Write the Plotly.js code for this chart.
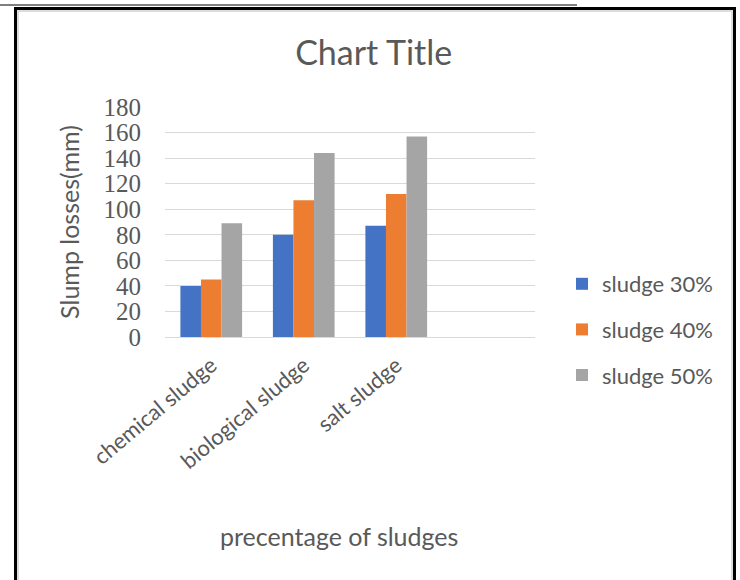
<!DOCTYPE html>
<html>
<head>
<meta charset="utf-8">
<script src="https://cdn.plot.ly/plotly-3.0.1.min.js"></script>
<style>
  html, body { margin: 0; padding: 0; background: #fff; }
  #wrap { position: relative; width: 740px; height: 580px; overflow: hidden; }
  #chart { position: absolute; left: 0; top: 0; width: 740px; height: 580px; }
  /* page rule above the chart object and its frame */
  #rule { position: absolute; left: 0; top: 4px; width: 577px; height: 2px; background: #7f7f7f; }
  #frame { position: absolute; left: 14px; top: 7px; width: 722px; height: 600px;
           border: 3px solid #000; box-sizing: border-box; pointer-events: none; }
  #inner { position: absolute; left: 17px; top: 10px; width: 716px; height: 600px;
           border: 2px solid #dcdcdc; box-sizing: border-box; pointer-events: none; }
</style>
</head>
<body>
<div id="wrap">
  <div id="chart"></div>
  <div id="rule"></div>
  <div id="inner"></div>
  <div id="frame"></div>
</div>
<script>
// categories and slump losses (mm) per sludge percentage
const categories = ['chemical sludge', 'biological sludge', 'salt sludge'];
const seriesNames = ['sludge 30%', 'sludge 40%', 'sludge 50%'];
const sludge30 = [40, 80, 87];
const sludge40 = [45, 107, 112];
const sludge50 = [89, 144, 157];
const yTicks = [0, 20, 40, 60, 80, 100, 120, 140, 160, 180];

const colors = ['#4472C4', '#ED7D31', '#A5A5A5'];
const values = [sludge30, sludge40, sludge50];
const font = 'Lato, "Open Sans", sans-serif';
const grey = '#595959';

const traces = values.map((v, i) => ({
  type: 'bar',
  name: seriesNames[i],
  x: categories,
  y: v,
  marker: { color: colors[i], line: { width: 0 } },
  legendgroup: 'g' + i,
  hoverinfo: 'x+y+name'
}));

const layout = {
  width: 740,
  height: 580,
  paper_bgcolor: '#ffffff',
  plot_bgcolor: '#ffffff',
  margin: { l: 165, r: 205, t: 107, b: 243 },
  barmode: 'group',
  bargap: 0.333,
  bargroupgap: 0,
  title: {
    text: 'Chart Title',
    x: 0.505, xref: 'container', xanchor: 'center',
    y: 0.909, yref: 'container', yanchor: 'middle',
    font: { family: font, size: 34, color: grey }
  },
  xaxis: {
    type: 'category',
    range: [-0.5, 3.5],
    tickangle: -40,
    tickfont: { family: font, size: 22, color: grey },
    ticklabelstandoff: 6,
    showgrid: false,
    showline: true,
    linecolor: '#d9d9d9',
    linewidth: 1,
    ticks: '',
    automargin: false
  },
  yaxis: {
    range: [0, 180],
    tickvals: yTicks,
    ticktext: yTicks.map(String),
    tickfont: { family: '"Liberation Serif", serif', size: 25, color: grey },
    ticklabelstandoff: 23,
    showgrid: true,
    gridcolor: '#d9d9d9',
    gridwidth: 1,
    zeroline: false,
    showline: false,
    ticks: '',
    automargin: false,
    title: {
      text: 'Slump losses(mm)',
      font: { family: font, size: 25, color: grey },
      standoff: 16
    }
  },
  annotations: [{
    text: 'precentage of sludges',
    xref: 'paper', yref: 'paper',
    x: (339 - 165) / 370, y: (337 - 536) / 230,
    xanchor: 'center', yanchor: 'middle',
    showarrow: false,
    font: { family: font, size: 25, color: grey }
  }],
  showlegend: true,
  legend: {
    x: (562 - 165) / 370, xanchor: 'left',
    y: (337 - 263) / 230, yanchor: 'top',
    traceorder: 'grouped',
    tracegroupgap: 14,
    font: { family: font, size: 22, color: grey },
    bgcolor: 'rgba(0,0,0,0)'
  }
};

Plotly.newPlot('chart', traces, layout, { displayModeBar: false, staticPlot: true });
</script>
</body>
</html>
